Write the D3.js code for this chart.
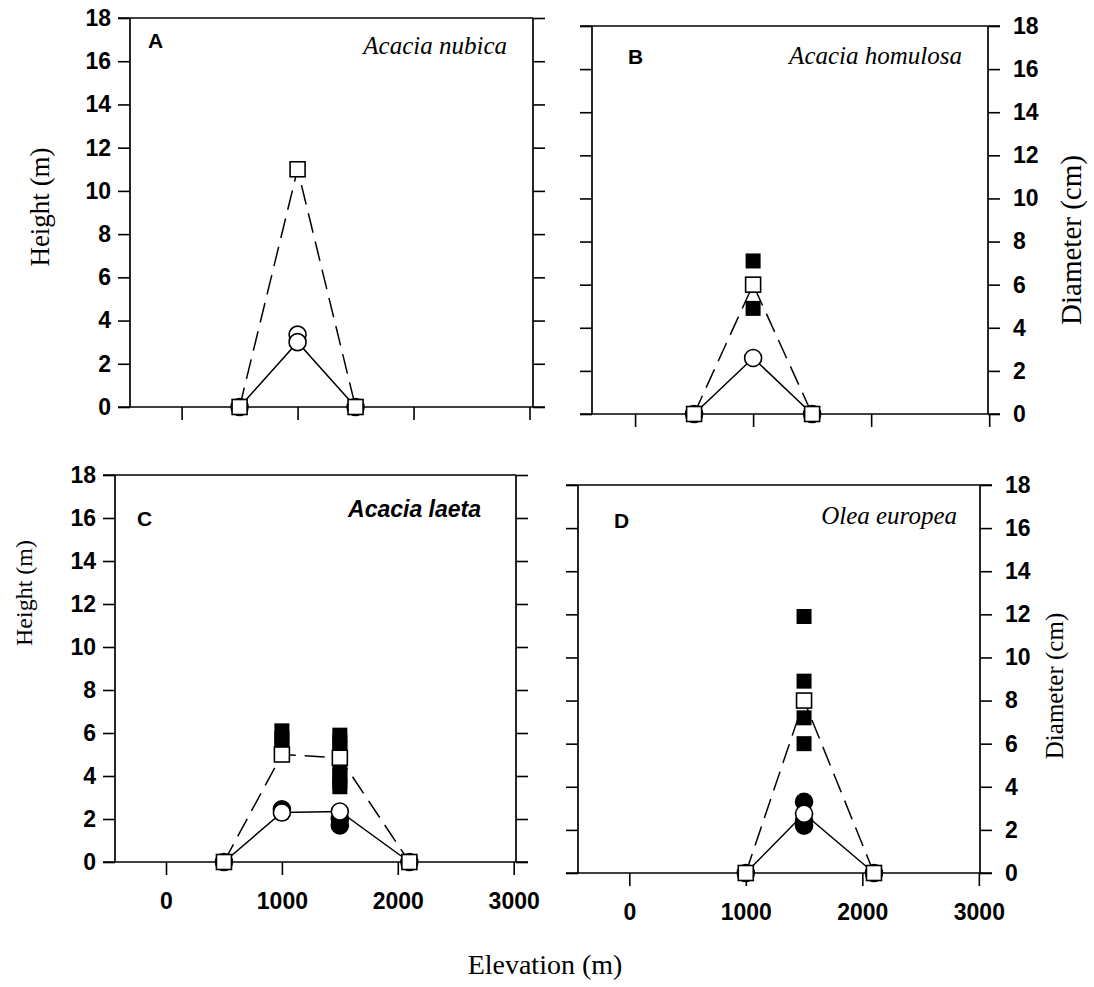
<!DOCTYPE html>
<html>
<head>
<meta charset="utf-8">
<script src="https://cdn.jsdelivr.net/npm/d3@7"></script>
<style>
  body { margin: 0; background: #fff; }
  .tick text { font-family: "Liberation Sans", Arial, sans-serif; font-weight: bold; font-size: 23px; fill: #000; }
  .tick line { stroke: #000; stroke-width: 1.6; }
</style>
</head>
<body>
<script>
// elevation (m) of the sites for each species
var elevA = [500, 1000, 1500],
    elevB = [500, 1000, 1500],
    elevC = [500, 1000, 1500, 2100],
    elevD = [1000, 1500, 2100];

// mean height (m), open circles, solid line
var heightA = [0, 3.0, 0],
    heightB = [0, 2.6, 0],
    heightC = [0, 2.3, 2.35, 0],
    heightD = [0, 2.75, 0];

// mean diameter (cm), open squares, dashed line
var diamA = [0, 11.0, 0],
    diamB = [0, 6.0, 0],
    diamC = [0, 5.0, 4.85, 0],
    diamD = [0, 8.0, 0];

// single trees: [elevation, value]
var treeHtA = [[1000, 3.35]],
    treeHtB = [],
    treeHtC = [[1000, 2.45], [1500, 2.0], [1500, 1.7]],
    treeHtD = [[1500, 3.3], [1500, 2.4], [1500, 2.2]];

var treeDiaA = [],
    treeDiaB = [[1000, 7.1], [1000, 4.9]],
    treeDiaC = [[1000, 6.1], [1000, 5.75], [1000, 5.45],
                [1500, 5.9], [1500, 5.6], [1500, 5.3], [1500, 4.4], [1500, 4.0], [1500, 3.7], [1500, 3.5]],
    treeDiaD = [[1500, 11.9], [1500, 8.9], [1500, 7.2], [1500, 6.0]];

var yTicks = [0, 2, 4, 6, 8, 10, 12, 14, 16, 18],
    xTicks = [0, 1000, 2000, 3000];

var species = ["Acacia nubica", "Acacia homulosa", "Acacia laeta", "Olea europea"],
    letters = ["A", "B", "C", "D"];

var width = 1094, height = 987;

var svg = d3.select("body").append("svg")
    .attr("width", width)
    .attr("height", height);

// panel boxes and what each one shows
var panels = [
  {box: [130, 533, 18, 407], xdom: [-445, 3030], elev: elevA, ht: heightA, dia: diamA, tHt: treeHtA, tDia: treeDiaA,
   openTree: true, left: true, right: false, bottom: false, letterX: 148, letterY: 48, spX: 507, spY: 54,
   spStyle: "serif"},
  {box: [592, 988, 26, 414], xdom: [-365, 2990], elev: elevB, ht: heightB, dia: diamB, tHt: treeHtB, tDia: treeDiaB,
   left: false, right: true, bottom: false, letterX: 628, letterY: 64, spX: 962, spY: 64, spStyle: "serif"},
  {box: [115, 516, 475, 862], xdom: [-440, 3020], elev: elevC, ht: heightC, dia: diamC, tHt: treeHtC, tDia: treeDiaC,
   left: true, right: false, bottom: true, letterX: 137, letterY: 526, spX: 481, spY: 517, spStyle: "sans"},
  {box: [578, 980, 485, 873], xdom: [-440, 3010], elev: elevD, ht: heightD, dia: diamD, tHt: treeHtD, tDia: treeDiaD,
   left: false, right: true, bottom: true, letterX: 614, letterY: 528, spX: 957, spY: 524, spStyle: "serif"}
];

var sq = 15, rad = 8.5;

panels.forEach(function(p, i) {
  var x0 = p.box[0], x1 = p.box[1], top = p.box[2], bot = p.box[3];

  var x = d3.scaleLinear().domain(p.xdom).range([x0, x1]);
  var y = d3.scaleLinear().domain([0, 18]).range([bot, top]);

  var g = svg.append("g");

  // axes
  var ax = g.append("g").attr("transform", "translate(" + x0 + ",0)")
      .call(d3.axisLeft(y).tickValues(yTicks).tickSize(12).tickPadding(7)
        .tickFormat(p.left ? d3.format("d") : ""));
  ax.select(".domain").remove();

  var ay = g.append("g").attr("transform", "translate(" + x1 + ",0)")
      .call(d3.axisRight(y).tickValues(yTicks).tickSize(12).tickPadding(13)
        .tickFormat(p.right ? d3.format("d") : ""));
  ay.select(".domain").remove();

  var ab = g.append("g").attr("transform", "translate(0," + bot + ")")
      .call(d3.axisBottom(x).tickValues(xTicks).tickSize(13).tickPadding(18)
        .tickFormat(p.bottom ? d3.format("d") : ""));
  ab.select(".domain").remove();

  // frame
  var frame = [
    [x0, top, x0, bot],
    [x1, top, x1, bot],
    [x0 - 12, top, x1 + (p.right ? 12 : 0), top],
    [x0 - 12, bot, x1 + 12, bot]
  ];
  g.selectAll("line.frame").data(frame).enter().append("line")
      .attr("class", "frame")
      .attr("x1", function(d) { return d[0]; })
      .attr("y1", function(d) { return d[1]; })
      .attr("x2", function(d) { return d[2]; })
      .attr("y2", function(d) { return d[3]; })
      .attr("stroke", "#000")
      .attr("stroke-width", 1.7);

  var line = d3.line()
      .x(function(d) { return x(d[0]); })
      .y(function(d) { return y(d[1]); });

  var diaPts = p.elev.map(function(e, k) { return [e, p.dia[k]]; }),
      htPts = p.elev.map(function(e, k) { return [e, p.ht[k]]; });

  g.append("path").datum(diaPts)
      .attr("d", line)
      .attr("fill", "none")
      .attr("stroke", "#000")
      .attr("stroke-width", 1.5)
      .attr("stroke-dasharray", "20,9");

  g.append("path").datum(htPts)
      .attr("d", line)
      .attr("fill", "none")
      .attr("stroke", "#000")
      .attr("stroke-width", 1.5);

  // single trees
  g.selectAll("rect.tree").data(p.tDia).enter().append("rect")
      .attr("class", "tree")
      .attr("x", function(d) { return x(d[0]) - sq / 2; })
      .attr("y", function(d) { return y(d[1]) - sq / 2; })
      .attr("width", sq)
      .attr("height", sq)
      .attr("fill", "#000");

  g.selectAll("circle.tree").data(p.tHt).enter().append("circle")
      .attr("class", "tree")
      .attr("cx", function(d) { return x(d[0]); })
      .attr("cy", function(d) { return y(d[1]); })
      .attr("r", rad)
      .attr("fill", p.openTree ? "#fff" : "#000")
      .attr("stroke", "#000")
      .attr("stroke-width", 1.6);

  // means
  g.selectAll("circle.mean").data(htPts).enter().append("circle")
      .attr("class", "mean")
      .attr("cx", function(d) { return x(d[0]); })
      .attr("cy", function(d) { return y(d[1]); })
      .attr("r", rad)
      .attr("fill", "#fff")
      .attr("stroke", "#000")
      .attr("stroke-width", 1.6);

  g.selectAll("rect.mean").data(diaPts).enter().append("rect")
      .attr("class", "mean")
      .attr("x", function(d) { return x(d[0]) - sq / 2; })
      .attr("y", function(d) { return y(d[1]) - sq / 2; })
      .attr("width", sq)
      .attr("height", sq)
      .attr("fill", "#fff")
      .attr("stroke", "#000")
      .attr("stroke-width", 1.6);

  // labels
  g.append("text")
      .attr("x", p.letterX)
      .attr("y", p.letterY)
      .attr("font-family", "Liberation Sans, Arial, sans-serif")
      .attr("font-weight", "bold")
      .attr("font-size", 21)
      .text(letters[i]);

  g.append("text")
      .attr("x", p.spX)
      .attr("y", p.spY)
      .attr("text-anchor", "end")
      .attr("font-family", p.spStyle == "sans" ? "Liberation Sans, Arial, sans-serif" : "Liberation Serif, Times New Roman, serif")
      .attr("font-weight", p.spStyle == "sans" ? "bold" : "normal")
      .attr("font-style", "italic")
      .attr("font-size", p.spStyle == "sans" ? 23 : 25)
      .text(species[i]);
});

// axis titles
var titles = [
  {text: "Height (m)", x: 40, y: 207, size: 27},
  {text: "Height (m)", x: 24, y: 593, size: 24},
  {text: "Diameter (cm)", x: 1071, y: 240, size: 29},
  {text: "Diameter (cm)", x: 1054, y: 686, size: 25}
];

svg.selectAll("text.ytitle").data(titles).enter().append("text")
    .attr("class", "ytitle")
    .attr("transform", function(d) { return "translate(" + d.x + "," + d.y + ") rotate(-90)"; })
    .attr("text-anchor", "middle")
    .attr("dy", "0.35em")
    .attr("font-family", "Liberation Serif, Times New Roman, serif")
    .attr("font-size", function(d) { return d.size; })
    .text(function(d) { return d.text; });

svg.append("text")
    .attr("x", 545)
    .attr("y", 974)
    .attr("text-anchor", "middle")
    .attr("font-family", "Liberation Serif, Times New Roman, serif")
    .attr("font-size", 28)
    .text("Elevation (m)");
</script>
</body>
</html>
